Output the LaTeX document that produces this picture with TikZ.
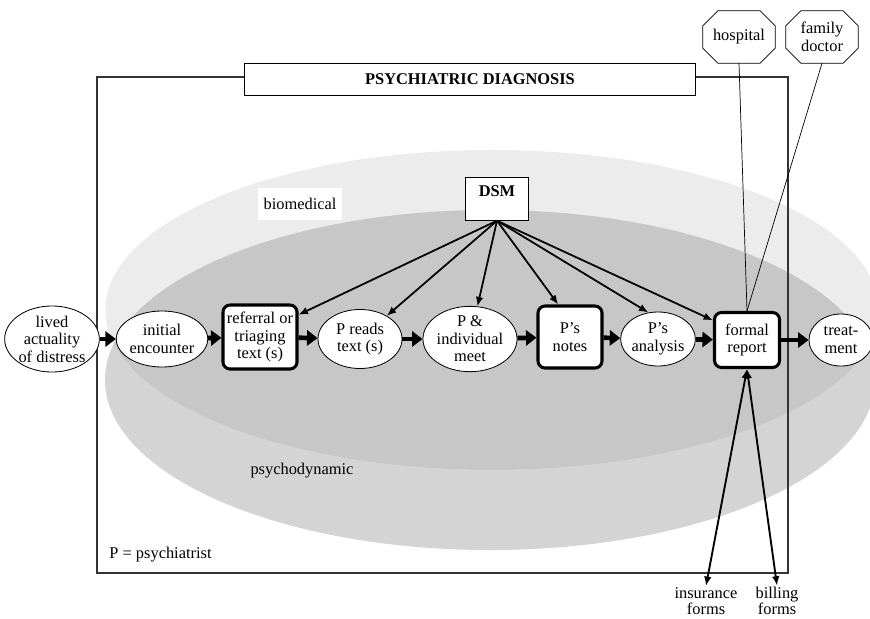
\documentclass[tikz,border=0pt]{standalone}
\usepackage{fontspec}
\setmainfont{Liberation Serif}
\usepackage{tikz}
\usetikzlibrary{shapes.geometric,arrows.meta}
\definecolor{biomed}{gray}{0.925}
\definecolor{psydyn}{gray}{0.83}
\definecolor{bothview}{gray}{0.78}

\begin{document}
\begin{tikzpicture}[x=0.03cm,y=-0.03cm,font=\fontsize{14}{15}\selectfont]
	 \tikzstyle{oval}=[ellipse,draw,line width=0.7pt,fill=white,inner sep=0pt,align=center]
	 \tikzstyle{textbox}=[rectangle,rounded corners=6pt,draw,line width=2.6pt,fill=white,inner sep=0pt,align=center]
	 \tikzstyle{octa}=[rectangle,inner sep=0pt,align=center,minimum width=2.16cm,minimum height=1.56cm]
	 \tikzstyle{octline}=[draw,line width=0.6pt]
	 \tikzstyle{label}=[inner sep=1pt,align=center]
	 \tikzstyle{flow}=[draw,line width=4pt,-{Triangle[length=9pt,width=13pt]}]
	 \tikzstyle{dsmarrow}=[draw,line width=1.5pt,-{Latex[length=8pt,width=6.5pt]}]
	 \tikzstyle{formarrow}=[draw,line width=1.6pt,{Latex[length=8pt,width=6.5pt]}-{Latex[length=8pt,width=6.5pt]}]
	 \tikzstyle{link}=[draw,line width=0.6pt]
	 \useasboundingbox (0,0) rectangle (870,619);
	 \fill[white] (0,0) rectangle (870,619);
	 \fill[psydyn] (490,380) ellipse [x radius=11.55cm,y radius=5.1cm];
	 \fill[biomed] (492,310) ellipse [x radius=11.6cm,y radius=4.8cm];
	 \begin{scope}
	 	\clip (492,310) ellipse [x radius=11.6cm,y radius=4.8cm];
	 	\fill[bothview] (490,380) ellipse [x radius=11.55cm,y radius=5.1cm];
	 \end{scope}
	 \draw[line width=2.2pt,black!80] (97,77) rectangle (788,573);
	 \node[rectangle,draw,line width=0.6pt,fill=white,minimum width=13.53cm,minimum height=0.96cm] (title) at (470,79) {\textbf{PSYCHIATRIC DIAGNOSIS}};
	 \node[fill=white,minimum width=2.52cm,minimum height=0.96cm] (biomed) at (300,204) {biomedical};
	 \node[label] (psydyn) at (302,471) {psychodynamic};
	 \node[label,anchor=west] (key) at (108,555) {P = psychiatrist};
	 \node[rectangle,draw,line width=0.6pt,fill=white,anchor=north,inner ysep=0pt,minimum width=1.89cm,text height=0.57cm,text depth=0.72cm] (dsm) at (497,177) {\textbf{DSM}};
	 \node[oval,minimum width=2.67cm,minimum height=1.77cm] (lived) at (52,339) {lived\\actuality\\of distress};
	 \node[oval,minimum width=2.49cm,minimum height=1.68cm] (initial) at (162,339) {initial\\encounter};
	 \node[textbox,minimum width=2.22cm,minimum height=1.92cm] (referral) at (260,337) {referral or\\triaging\\text (s)};
	 \node[oval,minimum width=2.52cm,minimum height=1.77cm] (reads) at (360,339) {P reads\\text (s)};
	 \node[oval,minimum width=2.82cm,minimum height=1.83cm] (meet) at (470,339) {P \&\\individual\\meet};
	 \node[textbox,minimum width=1.92cm,minimum height=1.86cm] (notes) at (570,337) {P’s\\notes};
	 \node[oval,minimum width=2.19cm,minimum height=1.62cm] (analysis) at (658,339) {P’s\\analysis};
	 \node[textbox,minimum width=1.95cm,minimum height=1.65cm] (formal) at (747,340) {formal\\report};
	 \node[oval,minimum width=1.92cm,minimum height=1.56cm] (treat) at (841,340) {treat-\\ment};
	 \node[octa] (hospital) at (739,37) {hospital};
	 \node[octa] (family) at (822,37) {family\\doctor};
	 \foreach \oct in {hospital,family}
	 	\draw[octline] ([xshift=0.45cm]\oct.north west) -- ([xshift=-0.45cm]\oct.north east)
	 		-- ([yshift=-0.45cm]\oct.north east) -- ([yshift=0.45cm]\oct.south east)
	 		-- ([xshift=-0.45cm]\oct.south east) -- ([xshift=0.45cm]\oct.south west)
	 		-- ([yshift=0.45cm]\oct.south west) -- ([yshift=-0.45cm]\oct.north west) -- cycle;
	 \node[label,font=\fontsize{14}{14}\selectfont] (insurance) at (706,601) {insurance\\forms};
	 \node[label,font=\fontsize{14}{14}\selectfont] (billing) at (777,601) {billing\\forms};
	 \draw[flow] (lived) -- (initial);
	 \draw[flow] (initial) -- (referral);
	 \draw[flow] (referral) -- (reads);
	 \draw[flow] (reads) -- (meet);
	 \draw[flow] (meet) -- (notes);
	 \draw[flow] (notes) -- (analysis);
	 \draw[flow] (analysis) -- (formal);
	 \draw[flow] (formal) -- (treat);
	 \draw[dsmarrow] (dsm.south) -- (referral.30);
	 \draw[dsmarrow] (dsm.south) -- (reads);
	 \draw[dsmarrow] (dsm.south) -- (meet);
	 \draw[dsmarrow] (dsm.south) -- (notes.110);
	 \draw[dsmarrow] (dsm.south) -- (analysis.110);
	 \draw[dsmarrow] (dsm.south) -- (formal.150);
	 \draw[link] (hospital.south) -- (formal.north);
	 \draw[link] (family.south) -- (formal.north);
	 \draw[formarrow] (formal.south) -- (insurance.north);
	 \draw[formarrow] (formal.south) -- (billing.north);
 \end{tikzpicture}
\end{document}
